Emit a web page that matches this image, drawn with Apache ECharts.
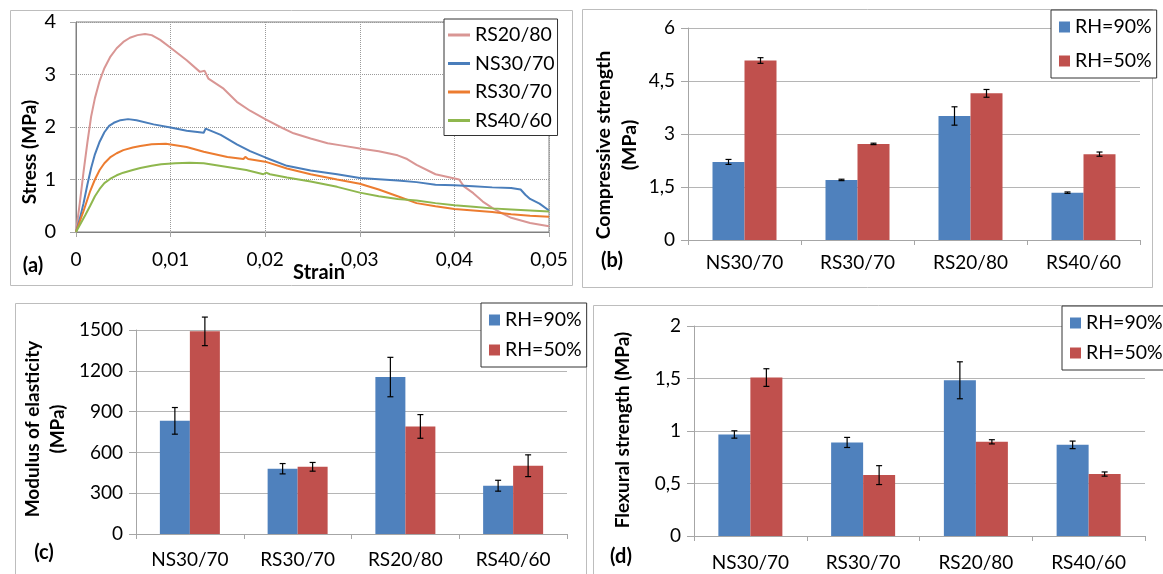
<!DOCTYPE html>
<html>
<head>
<meta charset="UTF-8">
<title>Mortar tests</title>
<script src="https://cdn.jsdelivr.net/npm/echarts@6/dist/echarts.min.js"></script>
<style>
  html, body { margin: 0; padding: 0; background: #fff; }
  #main { width: 1163px; height: 574px; }
</style>
</head>
<body>
<div id="main"></div>
<script type="text/javascript">
// (a) stress-strain curves
var rs2080Strain = [0,0.0004,0.0008,0.0012,0.0016,0.002,0.0025,0.003,0.0036,0.0043,0.005,0.0057,0.0065,0.0073,0.008,0.0089,0.01,0.0117,0.0131,0.0136,0.014,0.0156,0.017,0.0184,0.02,0.0216,0.023,0.0248,0.0266,0.028,0.03,0.032,0.034,0.035,0.036,0.038,0.0405,0.041,0.042,0.043,0.044,0.045,0.046,0.048,0.05];
var rs2080Stress = [0,0.55,1.15,1.7,2.2,2.55,2.88,3.12,3.33,3.5,3.62,3.70,3.75,3.77,3.75,3.66,3.51,3.27,3.05,3.07,2.92,2.73,2.48,2.31,2.15,2.0,1.88,1.78,1.69,1.65,1.59,1.54,1.46,1.39,1.28,1.10,1.0,0.87,0.74,0.58,0.46,0.36,0.27,0.17,0.11];
var ns3070Strain = [0,0.0004,0.0008,0.0012,0.0016,0.002,0.0025,0.003,0.0035,0.004,0.0047,0.0055,0.0064,0.0082,0.01,0.0117,0.0135,0.0137,0.0153,0.017,0.0184,0.02,0.0223,0.0248,0.0276,0.03,0.034,0.036,0.038,0.04,0.042,0.044,0.046,0.047,0.0475,0.048,0.049,0.05];
var ns3070Stress = [0,0.25,0.55,0.9,1.22,1.48,1.72,1.9,2.02,2.08,2.13,2.15,2.13,2.05,1.99,1.93,1.89,1.97,1.85,1.67,1.54,1.42,1.26,1.17,1.10,1.03,0.98,0.95,0.90,0.89,0.87,0.85,0.84,0.81,0.71,0.63,0.54,0.41];
var rs3070Strain = [0,0.0008,0.0015,0.002,0.0025,0.003,0.0036,0.0043,0.005,0.006,0.0068,0.008,0.0095,0.0117,0.0135,0.016,0.0177,0.0179,0.0182,0.02,0.0223,0.0248,0.0276,0.03,0.032,0.034,0.036,0.038,0.04,0.042,0.044,0.046,0.048,0.05];
var rs3070Stress = [0,0.4,0.78,1.0,1.18,1.31,1.42,1.5,1.56,1.61,1.64,1.67,1.68,1.62,1.53,1.43,1.39,1.43,1.39,1.34,1.21,1.10,1.0,0.92,0.81,0.68,0.55,0.49,0.44,0.41,0.38,0.34,0.31,0.29];
var rs4060Strain = [0,0.001,0.0015,0.002,0.0025,0.003,0.0036,0.0043,0.005,0.006,0.0068,0.008,0.009,0.0105,0.012,0.0135,0.016,0.018,0.0198,0.0201,0.0205,0.0223,0.0248,0.0276,0.03,0.032,0.034,0.036,0.038,0.04,0.042,0.044,0.046,0.048,0.05];
var rs4060Stress = [0,0.33,0.5,0.68,0.82,0.93,1.01,1.08,1.13,1.18,1.22,1.26,1.29,1.31,1.32,1.31,1.24,1.18,1.10,1.13,1.10,1.04,0.96,0.86,0.75,0.68,0.63,0.60,0.55,0.51,0.48,0.45,0.43,0.41,0.39];

// (b)(c)(d) bar panels
var mixes = ['NS30/70', 'RS30/70', 'RS20/80', 'RS40/60'];
var compRH90 = [2.21, 1.70, 3.51, 1.34];
var compRH50 = [5.08, 2.72, 4.15, 2.43];
var compErr90 = [0.07, 0.02, 0.26, 0.02];
var compErr50 = [0.08, 0.02, 0.11, 0.06];
var modRH90 = [832, 480, 1154, 355];
var modRH50 = [1490, 494, 791, 502];
var modErr90 = [98, 38, 145, 40];
var modErr50 = [105, 32, 87, 80];
var flexRH90 = [0.967, 0.891, 1.483, 0.868];
var flexRH50 = [1.509, 0.58, 0.897, 0.59];
var flexErr90 = [0.035, 0.048, 0.176, 0.036];
var flexErr50 = [0.084, 0.09, 0.02, 0.02];

var FONT = 'Lato';
var blue = '#4f81bd', red = '#c0504d';

function pairs(xs, ys) {
  var out = [];
  for (var i = 0; i < xs.length; i++) out.push([xs[i], ys[i]]);
  return out;
}
function comma(v) {
  return String(v).replace('.', ',');
}
function lineSeries(name, xs, ys, color) {
  return {
    name: name, type: 'line', xAxisIndex: 0, yAxisIndex: 0,
    data: pairs(xs, ys), showSymbol: false, symbol: 'none',
    lineStyle: { color: color, width: 2 }, itemStyle: { color: color }
  };
}
function barSeries(name, idx, vals, color, w) {
  return {
    name: name, type: 'bar', xAxisIndex: idx, yAxisIndex: idx,
    data: vals, barWidth: w, barGap: '0%',
    itemStyle: { color: color }
  };
}
function errSeries(idx, vals, errs, offset) {
  var d = [];
  for (var i = 0; i < vals.length; i++) d.push([i, vals[i], errs[i]]);
  return {
    type: 'custom', xAxisIndex: idx, yAxisIndex: idx, z: 5, silent: true,
    data: d,
    renderItem: function (params, api) {
      var i = api.value(0), v = api.value(1), e = api.value(2);
      var hi = api.coord([i, v + e]);
      var lo = api.coord([i, v - e]);
      var x = hi[0] + offset;
      var st = { stroke: '#000', lineWidth: 1.2 };
      return {
        type: 'group',
        children: [
          { type: 'line', shape: { x1: x, y1: hi[1], x2: x, y2: lo[1] }, style: st },
          { type: 'line', shape: { x1: x - 3, y1: hi[1], x2: x + 3, y2: hi[1] }, style: st },
          { type: 'line', shape: { x1: x - 3, y1: lo[1], x2: x + 3, y2: lo[1] }, style: st }
        ]
      };
    }
  };
}
function catAxis(idx, margin) {
  return {
    type: 'category', gridIndex: idx, data: mixes,
    axisLine: { lineStyle: { color: '#a6a6a6' } },
    axisTick: { show: true, length: 5, lineStyle: { color: '#a6a6a6' } },
    axisLabel: { fontFamily: FONT, fontSize: 19, color: '#000', margin: margin }
  };
}
function valAxis(idx, max, interval) {
  return {
    type: 'value', gridIndex: idx, min: 0, max: max, interval: interval,
    axisLine: { show: true, lineStyle: { color: '#a6a6a6' } },
    axisTick: { show: true, length: 7, lineStyle: { color: '#a6a6a6' } },
    splitLine: { lineStyle: { color: '#b5b5b5', width: 1 } },
    axisLabel: { fontFamily: FONT, fontSize: 19, color: '#000', margin: 13, formatter: comma }
  };
}
function barLegend(left, top, gap) {
  return {
    data: ['RH=90%', 'RH=50%'], orient: 'vertical', left: left, top: top,
    icon: 'rect', itemWidth: 11, itemHeight: 11, itemGap: gap,
    padding: [7, 5, 7, 8], backgroundColor: '#fff',
    borderColor: '#333', borderWidth: 1,
    textStyle: { fontFamily: FONT, fontSize: 19.5, color: '#000' }
  };
}
function rotText(x, y, str, size) {
  return {
    type: 'text', x: x, y: y, rotation: Math.PI / 2,
    style: { text: str, font: 'bold ' + size + 'px ' + FONT, fill: '#000', align: 'center', verticalAlign: 'middle' }
  };
}
function plainText(x, y, str) {
  return {
    type: 'text', x: x, y: y,
    style: { text: str, font: 'bold 20px ' + FONT, fill: '#000', align: 'center', verticalAlign: 'middle' }
  };
}
function frame(x, y, w, h) {
  return { type: 'rect', shape: { x: x, y: y, width: w, height: h }, z: -10,
    style: { fill: 'none', stroke: '#bdbdbd', lineWidth: 1 } };
}

var myChart = echarts.init(document.getElementById('main'));
var option = {
  backgroundColor: '#fff',
  animation: false,
  grid: [
    { left: 76, top: 22, width: 473, height: 210, show: true, borderColor: '#808080', borderWidth: 1, backgroundColor: 'transparent' },
    { left: 688, top: 28, width: 452, height: 212 },
    { left: 136, top: 330, width: 431, height: 204 },
    { left: 694, top: 326, width: 451, height: 210 }
  ],
  xAxis: [
    {
      type: 'value', gridIndex: 0, min: 0, max: 0.05, interval: 0.01,
      axisLine: { lineStyle: { color: '#808080' } },
      axisTick: { show: true, length: 5, lineStyle: { color: '#a6a6a6' } },
      splitLine: { show: true, lineStyle: { color: '#9a9a9a', type: 'dotted' } },
      axisLabel: { fontFamily: FONT, fontSize: 19, color: '#000', margin: 18,
        formatter: function (v) { return v === 0 ? '0' : v.toFixed(2).replace('.', ','); } }
    },
    catAxis(1, 13),
    catAxis(2, 16),
    catAxis(3, 17)
  ],
  yAxis: [
    {
      type: 'value', gridIndex: 0, min: 0, max: 4, interval: 1,
      axisLine: { show: true, lineStyle: { color: '#808080' } },
      axisTick: { show: true, length: 6, lineStyle: { color: '#a6a6a6' } },
      splitLine: { show: true, lineStyle: { color: '#9a9a9a', type: 'dotted' } },
      axisLabel: { fontFamily: FONT, fontSize: 20, color: '#000', margin: 20 }
    },
    valAxis(1, 6, 1.5),
    valAxis(2, 1500, 300),
    valAxis(3, 2, 0.5)
  ],
  legend: [
    {
      data: ['RS20/80', 'NS30/70', 'RS30/70', 'RS40/60'], orient: 'vertical',
      left: 444, top: 19, icon: 'rect', itemWidth: 22, itemHeight: 3, itemGap: 8.5,
      padding: [6, 3, 5, 4], backgroundColor: '#fff', borderColor: '#333', borderWidth: 1,
      textStyle: { fontFamily: FONT, fontSize: 19.5, color: '#000' }
    },
    barLegend(1051, 10, 14),
    barLegend(481, 303, 10),
    barLegend(1062, 306, 10)
  ],
  graphic: [
    frame(10.5, 10.5, 562, 275),
    frame(582.5, 9.5, 570, 278),
    frame(15.5, 303.5, 571, 290),
    frame(593.5, 305.5, 590, 290),
    rotText(30, 152, 'Stress (MPa)', 19),
    plainText(319, 273, 'Strain'),
    plainText(33, 266, '(a)'),
    rotText(604, 145, 'Compressive strength', 19.5),
    rotText(630, 145, '(MPa)', 19.5),
    plainText(612, 261, '(b)'),
    rotText(33, 429, 'Modulus of elasticity', 19),
    rotText(58, 429, '(MPa)', 19),
    plainText(44, 553, '(c)'),
    rotText(623, 430, 'Flexural strength (MPa)', 19),
    plainText(621, 557, '(d)')
  ],
  series: [
    lineSeries('RS20/80', rs2080Strain, rs2080Stress, '#d99694'),
    lineSeries('NS30/70', ns3070Strain, ns3070Stress, '#4a7ebb'),
    lineSeries('RS30/70', rs3070Strain, rs3070Stress, '#ec7c30'),
    lineSeries('RS40/60', rs4060Strain, rs4060Stress, '#8fb74e'),
    barSeries('RH=90%', 1, compRH90, blue, 32),
    barSeries('RH=50%', 1, compRH50, red, 32),
    errSeries(1, compRH90, compErr90, -16),
    errSeries(1, compRH50, compErr50, 16),
    barSeries('RH=90%', 2, modRH90, blue, 30),
    barSeries('RH=50%', 2, modRH50, red, 30),
    errSeries(2, modRH90, modErr90, -15),
    errSeries(2, modRH50, modErr50, 15),
    barSeries('RH=90%', 3, flexRH90, blue, 32),
    barSeries('RH=50%', 3, flexRH50, red, 32),
    errSeries(3, flexRH90, flexErr90, -16),
    errSeries(3, flexRH50, flexErr50, 16)
  ]
};
myChart.setOption(option);
</script>
</body>
</html>
